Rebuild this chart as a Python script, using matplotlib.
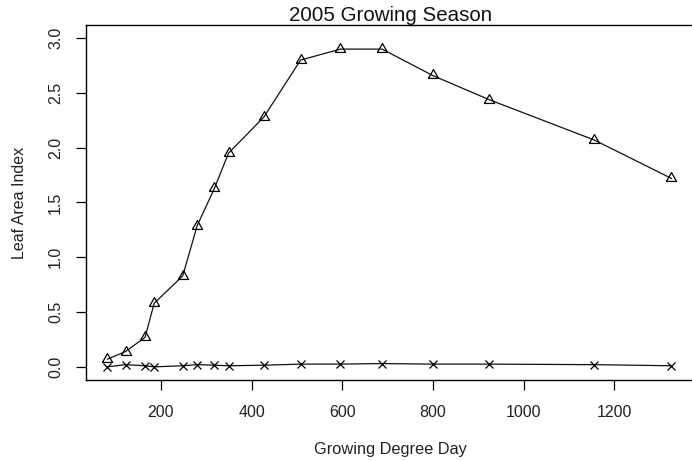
import matplotlib
matplotlib.use("Agg")
import matplotlib.pyplot as plt

# Growing degree days at each sampling date
gdd = [82, 122, 165, 185, 248, 280, 318, 349, 427, 508, 596, 688, 799, 923, 1156, 1326]

# Leaf area index for the two treatments
lai_triangle = [0.07, 0.14, 0.27, 0.58, 0.83, 1.29, 1.63, 1.95, 2.28, 2.80, 2.90, 2.90,
                2.66, 2.44, 2.07, 1.72]
lai_cross = [0.00, 0.02, 0.01, 0.00, 0.01, 0.02, 0.015, 0.01, 0.015, 0.025, 0.025, 0.03,
             0.025, 0.025, 0.02, 0.01]

x_ticks = [200, 400, 600, 800, 1000, 1200]
y_ticks = [0.0, 0.5, 1.0, 1.5, 2.0, 2.5, 3.0]

plt.rcParams['font.family'] = ['Liberation Sans', 'DejaVu Sans']

W, H = 692, 461
fig = plt.figure(figsize=(W / 100, H / 100), dpi=100)
left, right, top, bottom = 85.7, 695.9, 25, 380
ax = fig.add_axes([left / W, 1 - bottom / H, (right - left) / W, (bottom - top) / H])

# open equilateral triangle, like R's pch = 2
tri = [(-1.0, -0.577), (1.0, -0.577), (0.0, 1.155), (-1.0, -0.577)]

ax.plot(gdd, lai_triangle, color='#111111', lw=0.9, marker=tri, markersize=8.5,
        markerfacecolor='none', markeredgecolor='black', markeredgewidth=0.9)
ax.plot(gdd, lai_cross, color='#111111', lw=0.9, marker='x', markersize=6,
        markeredgecolor='black', markeredgewidth=0.9)

ax.set_xlim(34, 1380)
ax.set_ylim(-0.12, 3.12)
ax.set_xticks(x_ticks)
ax.set_xticklabels([str(v) for v in x_ticks])
ax.set_yticks(y_ticks)
ax.set_yticklabels([f"{v:.1f}" for v in y_ticks], rotation=90, va='center')

ax.tick_params(axis='both', direction='out', length=7.2, width=0.9, labelsize=11.5,
               colors='black', labelcolor='#222222')
ax.tick_params(axis='x', pad=10.5)
ax.tick_params(axis='y', pad=9)
for s in ax.spines.values():
    s.set_linewidth(1.0)
    s.set_color('black')

ax.set_title("2005 Growing Season", fontsize=14.8, pad=1.6, color='#111111')
ax.set_xlabel("Growing Degree Day", fontsize=11.8, labelpad=16, color='#222222')
ax.set_ylabel("Leaf Area Index", fontsize=11.5, labelpad=15, color='#222222')

fig.savefig("out.png", dpi=100)
